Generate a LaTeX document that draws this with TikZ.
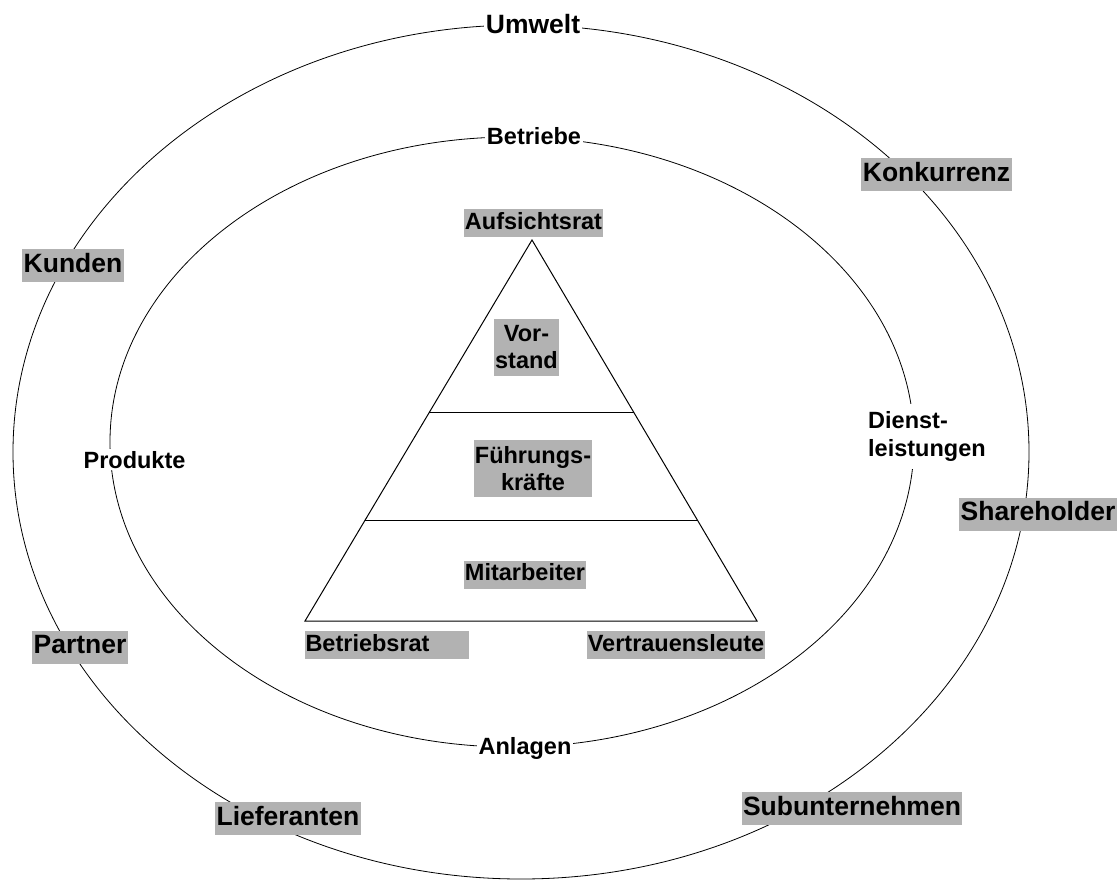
\documentclass[tikz,border=0pt]{standalone}
\usepackage{fontspec}
\setmainfont{Liberation Sans}
\usetikzlibrary{calc}
\definecolor{labelgray}{RGB}{178,178,178}
\begin{document}
\begin{tikzpicture}[x=1pt,y=-1pt,
  ring/.style={line width=0.8pt},
  pyr/.style={line width=1pt, line join=miter},
  bigfont/.style={font=\fontsize{26.5}{30}\selectfont\bfseries},
  smallfont/.style={font=\fontsize{23.5}{27}\selectfont\bfseries},
  outerlabel/.style={bigfont, fill=labelgray, text height=19.5pt, text depth=6pt, inner xsep=1.5pt, inner ysep=3.75pt},
  innerlabel/.style={smallfont, fill=labelgray, text height=17.5pt, text depth=5pt, inner xsep=0.5pt, inner ysep=2.75pt},
  blocklabel/.style={smallfont, fill=labelgray, align=center, inner xsep=1pt, inner ysep=6.5pt},
  ringlabel/.style={fill=white, inner xsep=1.5pt, inner ysep=2pt, anchor=base},
]
\useasboundingbox (0,0) rectangle (1117,880);

% environment and company rings
\draw[ring] (521,452) ellipse [x radius=508pt, y radius=427pt];
\draw[ring] (512,442) ellipse [x radius=402pt, y radius=305pt];

% pyramid
\coordinate (apex) at (532,240);
\coordinate (bl) at (305,621);
\coordinate (br) at (757,621);
\draw[pyr] (apex) -- (bl) -- (br) -- cycle;
\draw[pyr] ($(apex)!0.453!(bl)$) -- ($(apex)!0.453!(br)$);
\draw[pyr] ($(apex)!0.7375!(bl)$) -- ($(apex)!0.7375!(br)$);

% ring labels
\node[ringlabel,bigfont] (umwelt) at (533,33.5) {Umwelt};
\node[ringlabel,smallfont] (betriebe) at (534,144.5) {Betriebe};
\node[ringlabel,smallfont] (anlagen) at (525,754) {Anlagen};
\node[ringlabel,smallfont] (produkte) at (134.5,468) {Produkte};
\node[smallfont, fill=white, align=left, anchor=north west, inner xsep=1pt, inner ysep=7pt] (dienst) at (867,404) {Dienst-\\[1.5pt]leistungen};

% environment labels
\node[outerlabel] (konkurrenz) at (936.5,174.5) {Konkurrenz};
\node[outerlabel] (kunden) at (73,265.5) {Kunden};
\node[outerlabel] (shareholder) at (1038,514) {Shareholder};
\node[outerlabel] (partner) at (80,647) {Partner};
\node[outerlabel] (lieferanten) at (288,818.5) {Lieferanten};
\node[outerlabel] (subunternehmen) at (852,808.5) {Subunternehmen};

% pyramid labels
\node[innerlabel] (aufsichtsrat) at (533.5,223) {Aufsichtsrat};
\node[blocklabel] (vorstand) at (526.5,347.5) {Vor-\\stand};
\node[blocklabel] (fuehrung) at (533,468.5) {Führungs-\\kräfte};
\node[innerlabel] (mitarbeiter) at (525,574.5) {Mitarbeiter};
\node[innerlabel, text width=163pt, align=left] (betriebsrat) at (387,645) {Betriebsrat};
\node[innerlabel] (vertrauen) at (676,645) {Vertrauensleute};
\end{tikzpicture}
\end{document}
